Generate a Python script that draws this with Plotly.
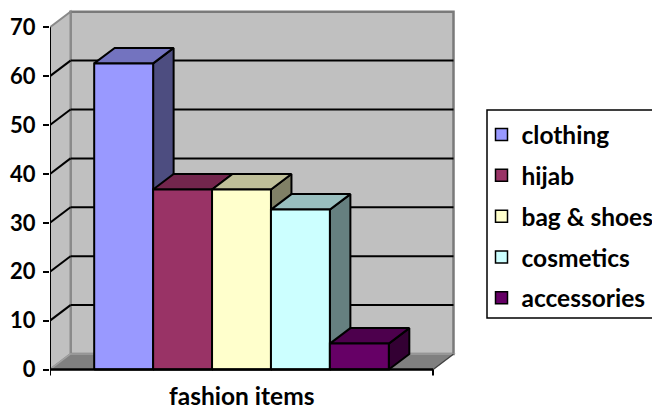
import plotly.graph_objects as go

# ---- data ----
category = "fashion items"
series = ["clothing", "hijab", "bag & shoes", "cosmetics", "accessories"]
values = [62.6, 36.8, 36.8, 32.7, 5.3]
y_ticks = [0, 10, 20, 30, 40, 50, 60, 70]

# ---- styling ----
front_colors = ["#9999FF", "#993366", "#FFFFCC", "#CCFFFF", "#660066"]
top_colors = ["#7373BF", "#73264D", "#BFBF99", "#99BFBF", "#4D004D"]
side_colors = ["#4D4D80", "#4D1A33", "#808066", "#668080", "#330033"]
FONT = dict(family="Lato, 'Open Sans', sans-serif", size=24.5, color="black", weight="bold")
TICK_FONT = dict(FONT, size=22)

W, H = 652, 412
ML, MR, MT, MB = 50, 182, 2, 20
plot_w = W - ML - MR
plot_h = H - MT - MB

# axis scales (pixels per data unit); bars sit at x = 0..4 with width 1,
# and the floor leaves a 0.75 bar gap on either side
n = len(series)
x_lo, x_hi = -1.25, (n - 1) + 1.25
px_x = 383 / (x_hi - x_lo)
px_y = 4.89
zero_px = 369.5
y_min = -((H - MB) - zero_px) / px_y
y_max = y_min + plot_h / px_y
x_max = x_lo + plot_w / px_x
y_top = y_ticks[-1]

# depth of the 3-D box, in data units
ddx = 20.5 / px_x
ddy = 15.5 / px_y

fig = go.Figure()

# ---- walls and floor ----
shapes = []
def poly(pts, fill, line_color, lw, layer="below"):
    path = "M " + " L ".join(f"{x},{y}" for x, y in pts) + " Z"
    return dict(type="path", path=path, xref="x", yref="y", fillcolor=fill,
                line=dict(color=line_color, width=lw), layer=layer)

def seg(x0, y0, x1, y1, color, lw, layer="below"):
    return dict(type="line", x0=x0, y0=y0, x1=x1, y1=y1, xref="x", yref="y",
                line=dict(color=color, width=lw), layer=layer)

# back wall
shapes.append(poly([(x_lo + ddx, ddy), (x_hi + ddx, ddy), (x_hi + ddx, y_top + ddy),
                    (x_lo + ddx, y_top + ddy)], "#C0C0C0", "#7A7A7A", 2.5))
# left wall
shapes.append(poly([(x_lo, 0), (x_lo + ddx, ddy), (x_lo + ddx, y_top + ddy), (x_lo, y_top)],
                   "#C0C0C0", "#8A8A8A", 2))
# floor
shapes.append(poly([(x_lo, 0), (x_hi, 0), (x_hi + ddx, ddy), (x_lo + ddx, ddy)],
                   "#808080", "#A0A0A0", 1.5))
shapes.append(seg(x_hi, 0, x_hi + ddx, ddy, "#404040", 1.2))

# gridlines on the walls
for v in y_ticks[1:-1]:
    shapes.append(seg(x_lo, v, x_lo + ddx, v + ddy, "black", 2))
    shapes.append(seg(x_lo + ddx, v + ddy, x_hi + ddx, v + ddy, "black", 2))

# front axis lines and category-axis end ticks
shapes.append(seg(x_lo, 0, x_lo, y_top, "black", 2, "above"))
shapes.append(seg(x_lo, 0, x_hi, 0, "black", 2.5, "above"))
for xv in (x_lo, x_hi):
    shapes.append(seg(xv, 0, xv, -6 / px_y, "black", 2, "above"))

# ---- 3-D bars: each bar drawn side, top, front, left to right ----
def face(xs, ys, color):
    return go.Scatter(x=xs + [xs[0]], y=ys + [ys[0]], mode="lines", fill="toself",
                      fillcolor=color, line=dict(color="black", width=2),
                      hoverinfo="skip", showlegend=False)

for i, (name, v) in enumerate(zip(series, values)):
    l, r = i - 0.5, i + 0.5
    fig.add_trace(face([r, r + ddx, r + ddx, r], [0, ddy, v + ddy, v], side_colors[i]))
    fig.add_trace(face([l, r, r + ddx, l + ddx], [v, v, v + ddy, v + ddy], top_colors[i]))
    fig.add_trace(face([l, r, r, l], [0, 0, v, v], front_colors[i]))

# legend entries
for i, name in enumerate(series):
    fig.add_trace(go.Bar(x=[None], y=[None], name=name, legendgroup=name,
                         marker=dict(color=front_colors[i], line=dict(color="black", width=1.5))))

def px2paper_x(p):
    return (p - ML) / plot_w

def px2paper_y(p):
    return (H - MB - p) / plot_h

# legend frame
shapes.append(dict(type="rect", xref="paper", yref="paper",
                   x0=px2paper_x(487), x1=px2paper_x(720),
                   y0=px2paper_y(318), y1=px2paper_y(110),
                   line=dict(color="black", width=1.5), fillcolor="rgba(0,0,0,0)"))

fig.update_layout(
    width=W, height=H,
    margin=dict(l=ML, r=MR, t=MT, b=MB, pad=0, autoexpand=False),
    paper_bgcolor="white", plot_bgcolor="white",
    font=FONT,
    shapes=shapes,
    showlegend=True,
    legend=dict(x=px2paper_x(481.5), y=px2paper_y(112), xanchor="left", yanchor="top",
                bgcolor="rgba(0,0,0,0)", borderwidth=0, font=FONT,
                traceorder="grouped", tracegroupgap=6),
    xaxis=dict(range=[x_lo, x_max], showgrid=False, zeroline=False, showline=False,
               showticklabels=False, ticks="", fixedrange=True),
    yaxis=dict(range=[y_min, y_max], showgrid=False, zeroline=False, showline=False,
               tickvals=y_ticks, ticks="outside", ticklen=6, tickwidth=2, tickcolor="black",
               tickfont=TICK_FONT, ticklabelstandoff=3, fixedrange=True),
    annotations=[dict(x=(x_lo + x_hi) / 2, y=px2paper_y(412), xref="x", yref="paper",
                      text=category, showarrow=False, font=FONT,
                      xanchor="center", yanchor="bottom")],
)

fig.write_html("out.html")
